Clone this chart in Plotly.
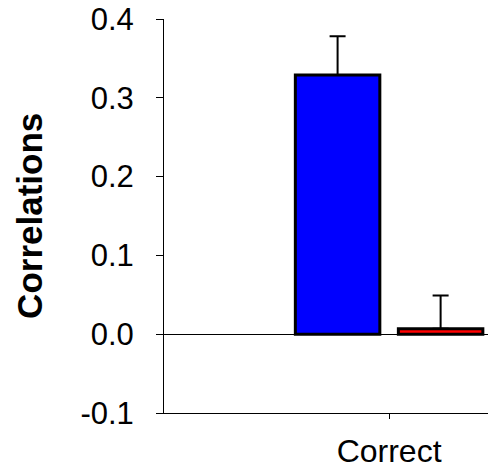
import plotly.graph_objects as go

categories = ["Correct"]
series_names = ["Condition A", "Condition B"]
values_a = [0.329]
errors_a = [0.049]
values_b = [0.007]
errors_b = [0.042]
ytick_vals = [-0.1, 0.0, 0.1, 0.2, 0.3, 0.4]
ytick_labels = ["-0.1", "0.0", "0.1", "0.2", "0.3", "0.4"]
y_title = "Correlations"

FONT = "Liberation Sans, Arial, sans-serif"

fig = go.Figure()
fig.add_trace(go.Bar(
    x=categories, y=values_a, name=series_names[0],
    marker=dict(color="#0000FF", line=dict(color="black", width=3)),
    error_y=dict(type="data", array=errors_a, arrayminus=[0] * len(errors_a),
                 symmetric=False, color="black", thickness=2, width=8),
))
fig.add_trace(go.Bar(
    x=categories, y=values_b, name=series_names[1],
    marker=dict(color="#FF0000", line=dict(color="black", width=3)),
    error_y=dict(type="data", array=errors_b, arrayminus=[0] * len(errors_b),
                 symmetric=False, color="black", thickness=2, width=8),
))

fig.update_layout(
    width=488, height=471,
    margin=dict(l=164, r=0, t=19, b=58),
    barmode="group", bargap=0.2, bargroupgap=0.18,
    plot_bgcolor="white", paper_bgcolor="white",
    showlegend=False,
    font=dict(family=FONT, color="black"),
)
fig.update_xaxes(
    type="category", range=[-0.874, 0.384], automargin=False,
    showline=True, linecolor="black", linewidth=1,
    ticks="outside", ticklen=5, tickcolor="black",
    tickfont=dict(size=32, family=FONT), ticklabelstandoff=5,
    showgrid=False, zeroline=False,
)
fig.update_yaxes(
    range=[-0.1, 0.4], tickvals=ytick_vals, ticktext=ytick_labels, automargin=False,
    showline=True, linecolor="black", linewidth=1,
    ticks="outside", ticklen=7, tickcolor="black",
    tickfont=dict(size=31, family=FONT), ticklabelstandoff=16,
    showgrid=False, zeroline=True, zerolinecolor="black", zerolinewidth=1,
)
fig.add_annotation(
    text="<b>" + y_title + "</b>", xref="paper", yref="paper",
    x=-0.417, y=0.5, xanchor="center", yanchor="middle",
    textangle=-90, showarrow=False, font=dict(size=35, family=FONT),
)

fig.write_html("out.html", config={"displayModeBar": False},
               post_script="document.body.style.margin='0';")
